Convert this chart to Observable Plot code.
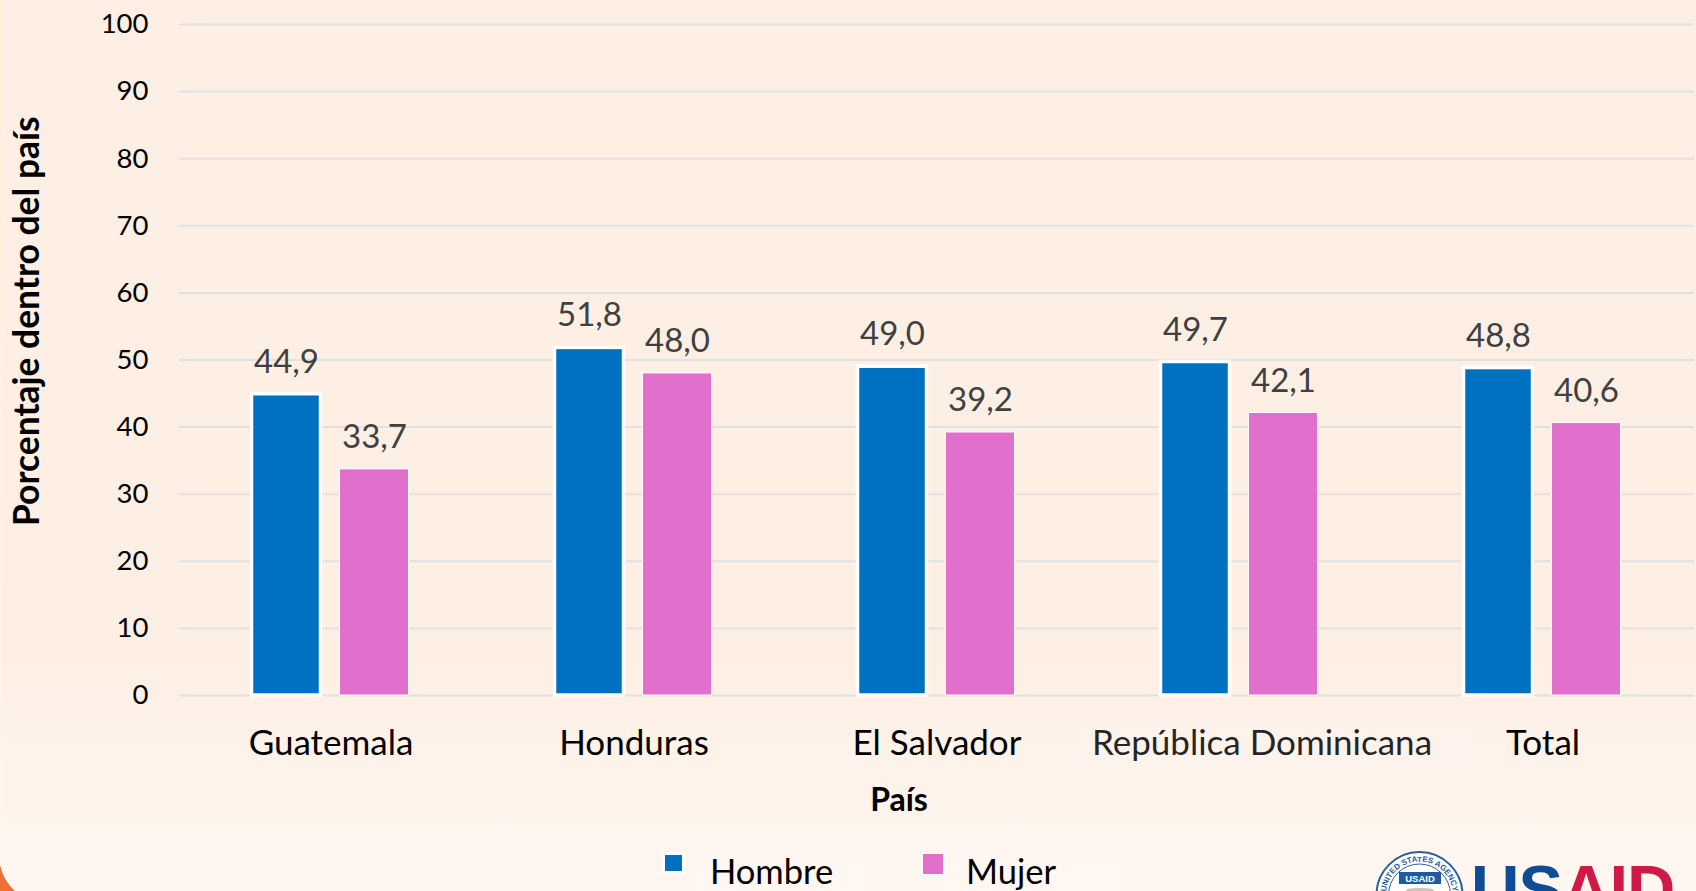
<!DOCTYPE html>
<html lang="es">
<head>
<meta charset="utf-8">
<script src="https://cdn.jsdelivr.net/npm/d3@7"></script>
<script src="https://cdn.jsdelivr.net/npm/@observablehq/plot@0.6"></script>
<style>
html,body{margin:0;padding:0;width:1696px;height:891px;overflow:hidden}
body{position:relative;font-family:Lato,sans-serif;background:linear-gradient(#feefe4 0,#feefe4 660px,#fef7f1 891px)}
#chart svg{display:block;background:transparent;overflow:visible}
#legend{position:absolute;left:662px;top:851px;font-size:34.5px;color:#000;line-height:40px;height:40px;white-space:nowrap}
#legend .sw{position:absolute;box-sizing:content-box}
#legend .lb{position:absolute;top:0}
#strip{position:absolute;left:0;top:0;width:2px;height:870px;background:linear-gradient(#ffeed8,#fff6ee)}
#corner{position:absolute;left:0;bottom:0;width:22px;height:32px;background:radial-gradient(circle 49.3px at 48px -4px,transparent 98.5%,#f26f33 100%)}
.patch{position:absolute;background:rgba(255,255,255,.14)}
#logo{position:absolute;left:1374px;top:848px;width:322px;height:43px;overflow:hidden}
#logo .t{position:absolute;left:97px;top:2px;font:bold 67px "Liberation Sans",sans-serif;letter-spacing:-1px;white-space:nowrap;line-height:78px}
</style>
</head>
<body>
<div class="patch" style="left:691px;top:838px;width:176px;height:53px"></div>
<div class="patch" style="left:945px;top:838px;width:178px;height:53px"></div>
<div class="patch" style="left:1075px;top:722px;width:400px;height:50px"></div>
<div id="chart"></div>
<div id="legend"></div>
<div id="strip"></div>
<div id="corner"></div>
<div id="logo"><svg width="92" height="60" style="position:absolute;left:0;top:0">
<defs><path id="arc" d="M 12 47 A 33.5 33.5 0 0 1 79 47"/></defs>
<circle cx="45.5" cy="47" r="43" fill="#fff" stroke="#2a5c9c" stroke-width="2"/>
<circle cx="45.5" cy="47" r="31" fill="#fff" stroke="#2a5c9c" stroke-width="1"/>
<text font-family="Liberation Sans" font-weight="bold" font-size="8" fill="#2a5c9c"><textPath href="#arc" startOffset="50%" text-anchor="middle">UNITED STATES AGENCY</textPath></text>
<rect x="25" y="24" width="42" height="12" fill="#1f5a9e"/>
<text x="46" y="33.5" text-anchor="middle" font-family="Liberation Sans" font-weight="bold" font-size="9.5" fill="#fff">USAID</text>
<ellipse cx="46" cy="42" rx="14" ry="2" fill="#c9c4b8"/>
</svg><div class="t"><span style="color:#0f4c96">US</span><span style="color:#cf1a48">AID</span></div></div>
<script>
const paises = ["Guatemala", "Honduras", "El Salvador", "República Dominicana", "Total"];
const sexos = ["Hombre", "Mujer"];
const hombre = [44.9, 51.8, 49.0, 49.7, 48.8];
const mujer = [33.7, 48.0, 39.2, 42.1, 40.6];
const colores = ["#0070c0", "#e070cb"];
const yTicks = [0, 10, 20, 30, 40, 50, 60, 70, 80, 90, 100];
const fmt = v => v.toFixed(1).replace(".", ",");
const data = paises.flatMap((p, i) => [
  {pais: p, sexo: sexos[0], valor: hombre[i]},
  {pais: p, sexo: sexos[1], valor: mujer[i]}
]);
const labelOpts = {fx: d => d, text: d => d, frameAnchor: "bottom", lineAnchor: "middle", dy: 48, fontSize: 35, fill: "#000", lineWidth: 30};
const chart = Plot.plot({
  width: 1696, height: 826,
  marginTop: 24, marginBottom: 131, marginLeft: 178.5, marginRight: 2,
  style: {background: "transparent", fontFamily: "Lato, sans-serif"},
  fx: {domain: paises, padding: 0, label: null, axis: null},
  x: {domain: sexos, paddingInner: 0.2126, paddingOuter: 0.809, label: null, axis: null},
  y: {domain: [0, 100], label: null},
  color: {domain: sexos, range: colores},
  marks: [
    Plot.gridY(yTicks, {stroke: "#dfe1e2", strokeOpacity: 1, strokeWidth: 2}),
    Plot.axisY(yTicks, {tickSize: 0, tickPadding: 31, fontSize: 27.5, fill: "#000", tickFormat: d => d, label: null}),
    Plot.barY(data, {fx: "pais", x: "sexo", y: "valor", fill: "sexo", stroke: "#fff", strokeWidth: d => d.sexo === sexos[0] ? 3.5 : 1}),
    Plot.text(data, {fx: "pais", x: "sexo", y: "valor", text: d => fmt(d.valor), dy: -32, fontSize: 33, fill: "#404040"}),
    Plot.text(paises.filter(p => p !== "República Dominicana"), labelOpts),
    Plot.text(["República Dominicana"], {...labelOpts, dx: 22}),
    Plot.text(["País"], {facet: "super", frameAnchor: "bottom", dx: -38, dy: 115, fontSize: 32, fontWeight: "bold", fill: "#000"}),
    Plot.text(["Porcentaje dentro del país"], {facet: "super", frameAnchor: "left", rotate: -90, dx: -152, dy: 166, fontSize: 35.4, fontWeight: "bold", fill: "#000"})
  ]
});
document.getElementById("chart").append(chart);
const legend = d3.select("#legend");
const swatch = [
  {left: 0, top: 1, w: 17, h: 16, border: 3},
  {left: 260, top: 2, w: 20, h: 20, border: 1}
];
const lbX = [48, 304];
sexos.forEach((s, i) => {
  const w = swatch[i];
  legend.append("span").attr("class", "sw").style("left", w.left + "px").style("top", w.top + "px")
    .style("width", w.w + "px").style("height", w.h + "px")
    .style("background", colores[i]).style("border", w.border + "px solid #fff");
  legend.append("span").attr("class", "lb").style("left", lbX[i] + "px").text(s);
});
</script>
</body>
</html>
